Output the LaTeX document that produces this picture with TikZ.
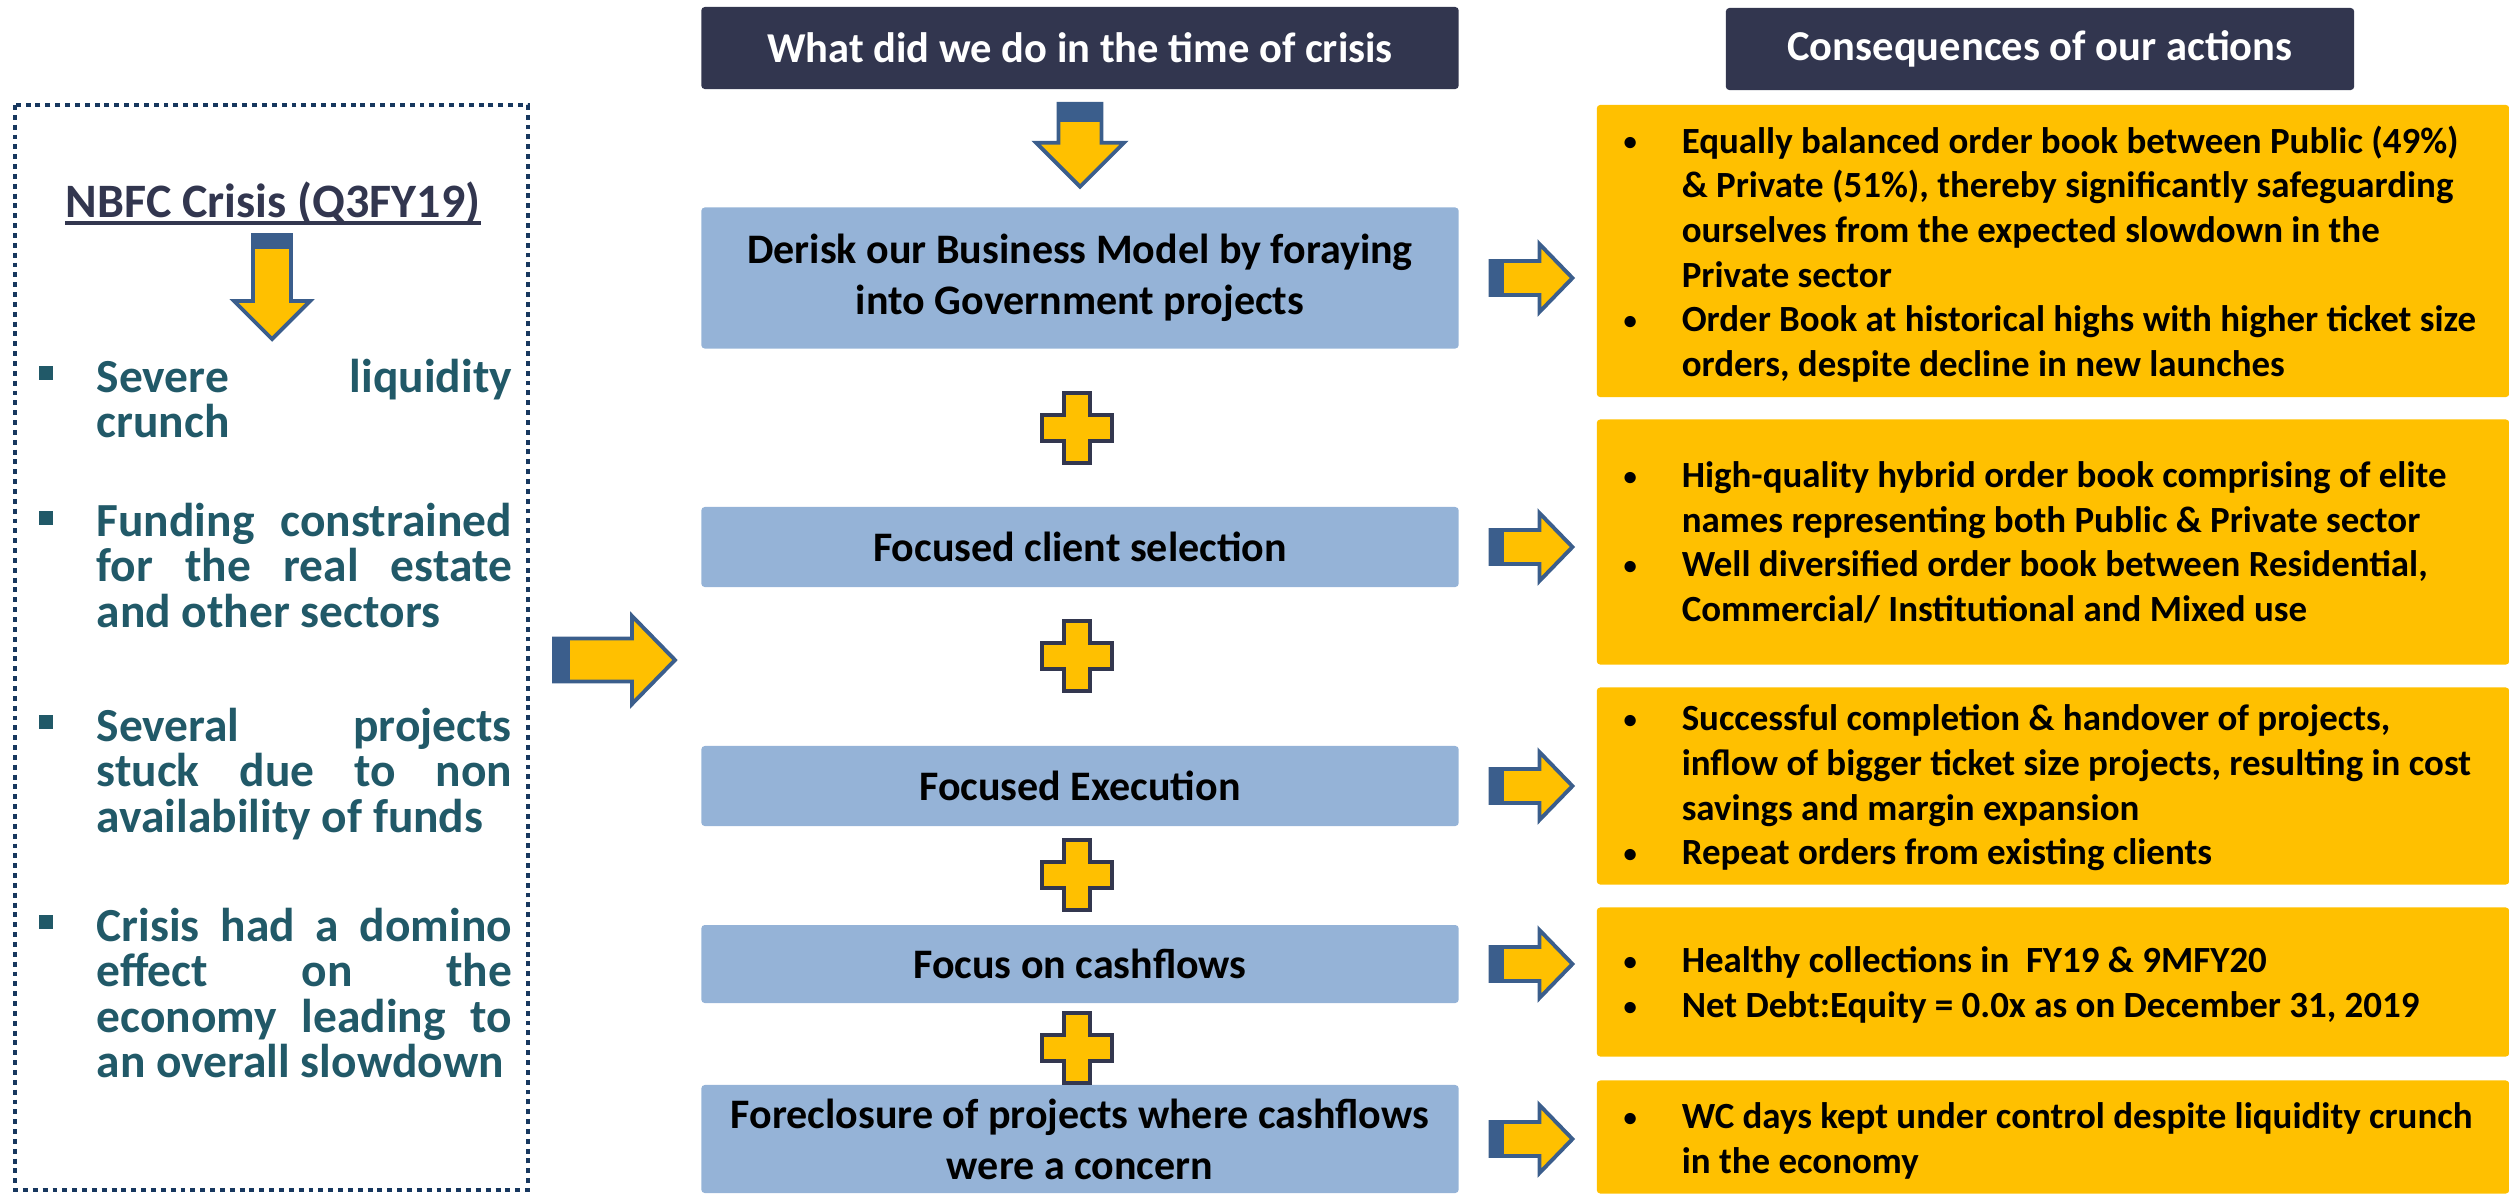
\documentclass[tikz,border=0pt]{standalone}
\usepackage{fontspec}
\setmainfont{Carlito}
\usetikzlibrary{positioning,calc}

\definecolor{gold}{HTML}{FFC000}
\definecolor{paleblue}{HTML}{95B3D7}
\definecolor{headnavy}{HTML}{32364F}
\definecolor{arrowblue}{HTML}{3B5E8C}
\definecolor{plusnavy}{HTML}{33374F}
\definecolor{tealtext}{HTML}{215968}
\definecolor{dotnavy}{HTML}{17375E}

\newlength{\bulw}
\setlength{\bulw}{0.63cm}
\newcommand{\bul}{\makebox[\bulw][l]{\hspace{0.05cm}\raisebox{0.06em}{\scalebox{0.72}{•}}}}
\newcommand{\ind}{\hspace*{\bulw}}
\newcommand{\jline}[1]{\makebox[4.15cm][s]{#1}}

\tikzset{
  dotbox/.style={draw=dotnavy, line width=1.4pt, dash pattern=on 1.4pt off 1.4pt},
  title/.style={anchor=base, inner sep=0pt, text=headnavy, font=\fontsize{13.65}{16}\selectfont\bfseries},
  titleline/.style={draw=headnavy, line width=0.9pt},
  sqbullet/.style={rectangle, fill=tealtext, minimum size=0.14cm, inner sep=0pt},
  leftpara/.style={anchor=north west, align=left, inner sep=0pt, text=tealtext, font=\fontsize{13.5}{12.97}\selectfont\bfseries},
  header/.style={fill=headnavy, text=white, rounded corners=1pt, minimum width=7.57cm, minimum height=0.82cm, inner sep=0pt, font=\fontsize{12.1}{14}\selectfont\bfseries},
  action/.style={fill=paleblue, rounded corners=1pt, minimum width=7.57cm, align=center, inner sep=0pt, font=\fontsize{11.95}{14.5}\selectfont\bfseries},
  result/.style={fill=gold, rounded corners=1pt, minimum width=9.12cm, inner sep=0pt},
  restext/.style={anchor=north west, align=left, inner sep=0pt, font=\fontsize{10.5}{12.7}\selectfont\bfseries},
  pics/blockarrow/.style n args={5}{code={
    \filldraw[draw=arrowblue, fill=gold, line width=1.1pt]
      (0,{-#3/2}) -- ({#1-#2},{-#3/2}) -- ({#1-#2},{-#4/2}) -- (#1,0)
      -- ({#1-#2},{#4/2}) -- ({#1-#2},{#3/2}) -- (0,{#3/2}) -- cycle;
    \fill[arrowblue] (0,{-#3/2}) rectangle (#5,{#3/2});
  }},
  pics/plussign/.style={code={
    \filldraw[draw=plusnavy, fill=gold, line width=1.4pt]
      (-13,-35) -- (13,-35) -- (13,-13) -- (35,-13) -- (35,13) -- (13,13)
      -- (13,35) -- (-13,35) -- (-13,13) -- (-35,13) -- (-35,-13) -- (-13,-13) -- cycle;
  }},
}

\begin{document}
\begin{tikzpicture}[x=0.01cm, y=-0.01cm]
  \useasboundingbox (0,0) rectangle (2509,1193);

  % crisis column
  \draw[dotbox] (15,105) rectangle (528,1190);
  \node[title] (crisis) at (273,217) {NBFC Crisis (Q3FY19)};
  \draw[titleline] ([yshift=-0.06cm]crisis.base west) -- ([yshift=-0.06cm]crisis.base east);
  \pic[rotate=-90] at (272,235) {blockarrow={104}{38}{38}{76}{14}};

  \node[sqbullet] (sq1) at (46,373) {};
  \node[leftpara] (para1) at (96,358) {\jline{Severe liquidity}\\crunch};
  \node[sqbullet] (sq2) at (46,518) {};
  \node[leftpara] (para2) at (96,502) {\jline{Funding constrained}\\\jline{for the real estate}\\and other sectors};
  \node[sqbullet] (sq3) at (46,722) {};
  \node[leftpara] (para3) at (96,707) {\jline{Several projects}\\\jline{stuck due to non}\\availability of funds};
  \node[sqbullet] (sq4) at (46,922) {};
  \node[leftpara] (para4) at (96,907) {\jline{Crisis had a domino}\\\jline{effect on the}\\\jline{economy leading to}\\an overall slowdown};

  \pic at (554,660) {blockarrow={121}{43}{43}{88}{16}};

  % actions
  \node[header] (hdrA) at (1080,48) {What did we do in the time of crisis};
  \pic[rotate=-90] at ([yshift=-0.14cm]hdrA.south) {blockarrow={83}{44}{43}{88}{18}};

  \node[action, minimum height=1.41cm] (act1) at (1080,278) {Derisk our Business Model by foraying\\into Government projects};
  \node[action, minimum height=0.80cm] (act2) at (1080,547) {Focused client selection};
  \node[action, minimum height=0.80cm] (act3) at (1080,786) {Focused Execution};
  \node[action, minimum height=0.78cm] (act4) at (1080,964) {Focus on cashflows};
  \node[action, minimum height=1.08cm] (act5) at (1080,1139) {Foreclosure of projects where cashflows\\were a concern};

  \foreach \y in {428,656,875,1048}
    \pic at (1077,\y) {plussign};

  \foreach \i in {1,...,5}
    \pic at ([xshift=0.31cm]act\i.east) {blockarrow={82}{33}{34}{68}{14}};

  % consequences
  \node[header, minimum width=6.28cm] (hdrB) at (2040,49) {Consequences of our actions};

  \node[result, minimum height=2.92cm] (res1) at (2053,251) {};
  \node[restext] (res1text) at (1618,125) {\bul Equally balanced order book between Public (49\%)\\
    \ind \& Private (51\%), thereby significantly safeguarding\\
    \ind ourselves from the expected slowdown in the\\
    \ind Private sector\\
    \bul Order Book at historical highs with higher ticket size\\
    \ind orders, despite decline in new launches};

  \node[result, minimum height=2.45cm] (res2) at (2053,542) {};
  \node[restext] (res2text) at (1618,461) {\bul High-quality hybrid order book comprising of elite\\
    \ind names representing both Public \& Private sector\\
    \bul Well diversified order book between Residential,\\
    \ind Commercial/ Institutional and Mixed use};

  \node[result, minimum height=1.97cm] (res3) at (2053,786) {};
  \node[restext] (res3text) at (1618,704) {\bul Successful completion \& handover of projects,\\
    \ind inflow of bigger ticket size projects, resulting in cost\\
    \ind savings and margin expansion\\
    \bul Repeat orders from existing clients};

  \node[result, minimum height=1.49cm] (res4) at (2053,982) {};
  \node[restext] (res4text) at (1618,946) {\bul Healthy collections in~ FY19 \& 9MFY20\\
    \bul Net Debt:Equity = 0.0x as on December 31, 2019};

  \node[result, minimum height=1.13cm] (res5) at (2053,1137) {};
  \node[restext] (res5text) at (1618,1102) {\bul WC days kept under control despite liquidity crunch\\
    \ind in the economy};
\end{tikzpicture}
\end{document}
